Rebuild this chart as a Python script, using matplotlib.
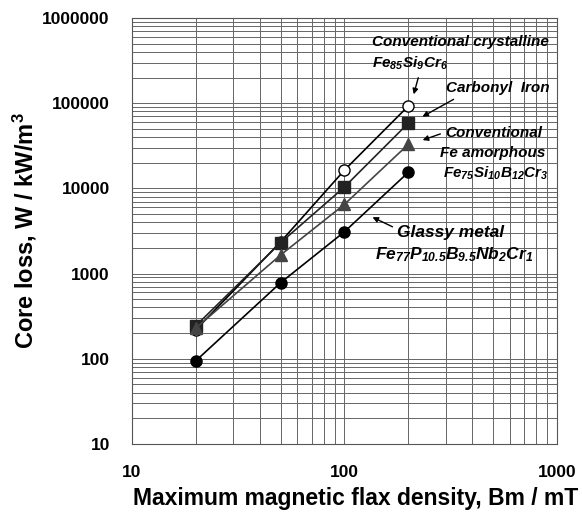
import matplotlib
matplotlib.use('Agg')
import matplotlib.pyplot as plt

plt.rcParams['font.family'] = ['Liberation Sans', 'DejaVu Sans']
plt.rcParams['mathtext.default'] = 'regular'

# flux density, mT
bm = [20, 50, 100, 200]

# core loss, kW/m3
crystalline = [220, 2350, 16400, 93000]
carbonyl = [245, 2300, 10400, 58500]
amorphous = [230, 1650, 6500, 33000]
glassy = [95, 780, 3100, 15500]

xticks = [10, 100, 1000]
yticks = [10, 100, 1000, 10000, 100000, 1000000]

fig = plt.figure(figsize=(5.82, 5.14), dpi=100)
ax = fig.add_axes([0.2268, 0.1362, 0.7302, 0.8288])

ax.plot(bm, crystalline, '-o', color='black', mfc='white', ms=8, lw=1.2, zorder=5)
ax.plot(bm, carbonyl, '-s', color='#222222', ms=8, lw=1.2, zorder=5)
ax.plot(bm, amorphous, '-^', color='#444444', ms=8, lw=1.2, zorder=5)
ax.plot(bm, glassy, '-o', color='black', ms=8, lw=1.2, zorder=5)

ax.set_xscale('log')
ax.set_yscale('log')
ax.set_xlim(10, 1000)
ax.set_ylim(10, 1000000)
ax.set_xticks(xticks)
ax.set_xticklabels([str(t) for t in xticks])
ax.set_yticks(yticks)
ax.set_yticklabels([str(t) for t in yticks])
ax.grid(True, which='both', color='#666666', lw=0.7)
ax.tick_params(which='both', length=0, labelsize=12.5)
ax.tick_params(axis='x', pad=15)
ax.tick_params(axis='y', pad=16)
for lab in ax.get_xticklabels() + ax.get_yticklabels():
    lab.set_fontweight('bold')
for s in ax.spines.values():
    s.set_color('#555555')
    s.set_linewidth(0.8)

ax.set_xlabel('Maximum magnetic flax density, Bm / mT', fontsize=16.5,
              fontweight='bold')
ax.xaxis.set_label_coords(0.527, -0.1)
ax.set_ylabel('Core loss, W / kW/m$^3$', fontsize=17, fontweight='bold', labelpad=2)

tkw = dict(fontsize=11, fontweight='bold', fontstyle='italic', transform=fig.transFigure)
apk = dict(arrowstyle='-|>', color='black', lw=1, mutation_scale=8)


def fpt(x, y):
    return (x / 582, 1 - y / 514)


ax.text(*fpt(372, 42), 'Conventional crystalline', va='center', **tkw)
ax.text(*fpt(372, 63), 'Fe$_{85}$Si$_{9}$Cr$_{6}$', va='center', **tkw)
ax.annotate('', xy=fpt(413, 97), xytext=fpt(419, 75), xycoords='figure fraction',
            arrowprops=apk)

ax.text(*fpt(446, 88), 'Carbonyl  Iron', va='center', **tkw)
ax.annotate('', xy=fpt(420, 118), xytext=fpt(456, 98), xycoords='figure fraction',
            arrowprops=apk)

ax.text(*fpt(445, 133), 'Conventional', va='center', **tkw)
ax.text(*fpt(440, 153), 'Fe amorphous', va='center', **tkw)
ax.text(*fpt(443, 173), 'Fe$_{75}$Si$_{10}$B$_{12}$Cr$_{3}$', va='center', **tkw)
ax.annotate('', xy=fpt(420, 141), xytext=fpt(443, 133), xycoords='figure fraction',
            arrowprops=apk)

tkw2 = dict(tkw, fontsize=12.5)
ax.text(*fpt(397, 232), 'Glassy metal', va='center', **tkw2)
ax.text(*fpt(375, 255), 'Fe$_{77}$P$_{10.5}$B$_{9.5}$Nb$_{2}$Cr$_{1}$', va='center', **tkw2)
ax.annotate('', xy=fpt(370, 216), xytext=fpt(395, 228), xycoords='figure fraction',
            arrowprops=apk)

fig.savefig('out.png', dpi=100)
